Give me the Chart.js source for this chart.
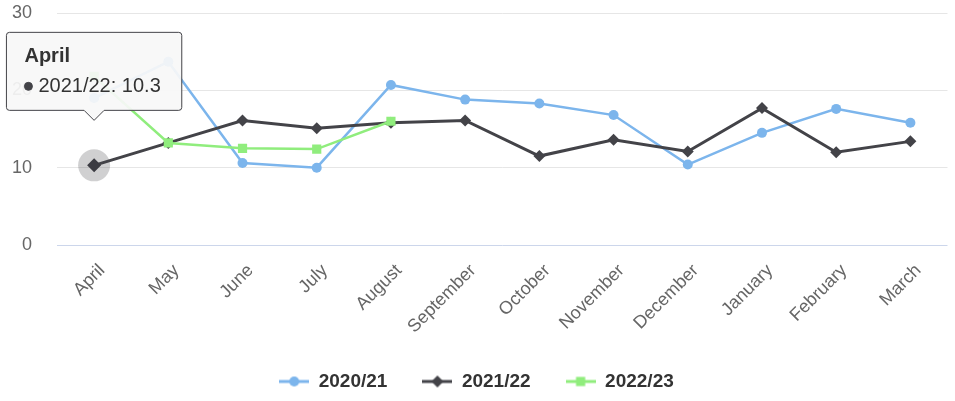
<!DOCTYPE html>
<html>
<head>
<meta charset="utf-8">
<script src="https://cdn.jsdelivr.net/npm/chart.js@4.4.1/dist/chart.umd.min.js"></script>
<style>
html, body { margin: 0; padding: 0; background: #fff; }
</style>
</head>
<body>
<canvas id="graph" width="955" height="401"></canvas>
<script>
var months = ['April', 'May', 'June', 'July', 'August', 'September', 'October',
    'November', 'December', 'January', 'February', 'March'];
var season_labels = ['2020/21', '2021/22', '2022/23'];
var values_2020 = [19.0, 23.7, 10.6, 10.0, 20.7, 18.8, 18.3, 16.8, 10.4, 14.5, 17.6, 15.8];
var values_2021 = [10.3, 13.2, 16.1, 15.1, 15.8, 16.1, 11.5, 13.6, 12.1, 17.7, 12.0, 13.4];
var values_2022 = [21.8, 13.2, 12.5, 12.4, 16.0, null, null, null, null, null, null, null];
var y_ticks = [0, 10, 20, 30];

var font_family = '"Liberation Sans", Arial, sans-serif';
var colors = ['#7cb5ec', '#434348', '#90ed7d'];
var shapes = ['circle', 'rectRot', 'rect'];
var radius = [5, 6, 6.5];

// legend symbol: short line with the marker in the middle
function legend_symbol(color, shape, r){
    var c = document.createElement('canvas');
    c.width = 30; c.height = 16;
    var ctx = c.getContext('2d');
    ctx.strokeStyle = color;
    ctx.fillStyle = color;
    ctx.lineWidth = 3;
    ctx.beginPath(); ctx.moveTo(0, 8); ctx.lineTo(30, 8); ctx.stroke();
    ctx.beginPath();
    if (shape == 'circle') {
        ctx.arc(15, 8, r, 0, Math.PI * 2);
    } else if (shape == 'rectRot') {
        ctx.moveTo(15, 8 - r); ctx.lineTo(15 + r, 8); ctx.lineTo(15, 8 + r); ctx.lineTo(15 - r, 8);
        ctx.closePath();
    } else {
        var h = r * Math.SQRT1_2;
        ctx.rect(15 - h, 8 - h, h * 2, h * 2);
    }
    ctx.fill();
    return c;
}

var halo_plugin = {
    id: 'halo',
    beforeDatasetsDraw: function(chart){
        var ctx = chart.ctx;
        chart.getActiveElements().forEach(function(a){
            ctx.save();
            ctx.beginPath();
            ctx.arc(a.element.x, a.element.y, 16, 0, Math.PI * 2);
            ctx.fillStyle = 'rgba(67,67,72,0.25)';
            ctx.fill();
            ctx.restore();
        });
    }
};

function make_dataset(i, data, widths){
    return {
        label: season_labels[i],
        data: data,
        borderColor: colors[i],
        backgroundColor: colors[i],
        borderWidth: widths,
        pointStyle: shapes[i],
        pointRadius: radius[i],
        pointHoverRadius: radius[i] + 1,
        pointBorderWidth: 0,
        pointHoverBorderWidth: 0,
        pointBackgroundColor: colors[i],
        tension: 0,
        order: 3 - i
    };
}

var chart_context = document.getElementById('graph').getContext('2d');
var chart = new Chart(chart_context, {
    type: 'line',
    data: {
        labels: months,
        datasets: [
            make_dataset(0, values_2020, 2.5),
            make_dataset(1, values_2021, 3),
            make_dataset(2, values_2022, 2.5)
        ]
    },
    options: {
        responsive: false,
        animation: false,
        events: [],
        layout: { padding: { top: 13, right: 2, left: 0, bottom: 0 } },
        scales: {
            x: {
                offset: true,
                grid: { display: false },
                border: { display: false },
                ticks: {
                    color: '#666',
                    font: { family: font_family, size: 18 },
                    minRotation: 45,
                    maxRotation: 45,
                    autoSkip: false,
                    padding: 7,
                    labelOffset: 8
                },
                afterFit: function(scale){
                    scale.height = 92;
                    scale.paddingLeft = 0;
                    scale.paddingRight = 0;
                }
            },
            y: {
                min: 0,
                max: 30,
                afterBuildTicks: function(scale){
                    scale.ticks = y_ticks.map(function(v){ return {value: v}; });
                },
                grid: {
                    drawTicks: false,
                    color: function(c){ return c.tick && c.tick.value === 0 ? '#ccd6eb' : '#e6e6e6'; },
                    lineWidth: 1
                },
                border: { display: false },
                ticks: {
                    color: '#666',
                    font: { family: font_family, size: 18 },
                    padding: 25
                },
                afterFit: function(scale){
                    scale.width = 57;
                    scale.paddingTop = 0;
                    scale.paddingBottom = 0;
                }
            }
        },
        plugins: {
            legend: {
                position: 'bottom',
                labels: {
                    usePointStyle: true,
                    pointStyleWidth: 30,
                    padding: 35,
                    color: '#333',
                    font: { family: font_family, size: 19, weight: 'bold' },
                    generateLabels: function(chart){
                        return chart.data.datasets.map(function(ds, i){
                            return {
                                text: ds.label,
                                pointStyle: legend_symbol(colors[i], shapes[i], radius[i]),
                                fillStyle: colors[i],
                                strokeStyle: colors[i],
                                lineWidth: 0,
                                fontColor: '#333',
                                datasetIndex: i
                            };
                        });
                    }
                }
            },
            tooltip: {
                xAlign: 'center',
                yAlign: 'bottom',
                backgroundColor: 'rgba(247,247,247,0.93)',
                borderColor: '#434348',
                borderWidth: 1,
                cornerRadius: 3,
                caretSize: 10,
                caretPadding: 45,
                padding: { top: 12, bottom: 12, left: 18, right: 21 },
                titleColor: '#333',
                bodyColor: '#333',
                titleFont: { family: font_family, size: 20, weight: 'bold' },
                bodyFont: { family: font_family, size: 20 },
                titleMarginBottom: 6,
                displayColors: true,
                usePointStyle: true,
                boxWidth: 8,
                boxHeight: 8,
                boxPadding: 4,
                callbacks: {
                    labelColor: function(ctx){
                        return { borderColor: colors[ctx.datasetIndex], backgroundColor: colors[ctx.datasetIndex], borderWidth: 0 };
                    },
                    labelPointStyle: function(){
                        return { pointStyle: 'circle', rotation: 0 };
                    }
                }
            }
        }
    },
    plugins: [halo_plugin]
});

// hovered April point of 2021/22, as in the picture
var active = [{datasetIndex: 1, index: 0}];
chart.setActiveElements(active);
chart.tooltip.setActiveElements(active, {x: 0, y: 0});
chart.draw();
</script>
</body>
</html>
